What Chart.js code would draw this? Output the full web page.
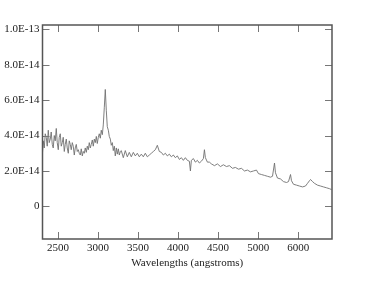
<!DOCTYPE html>
<html>
<head>
<meta charset="utf-8">
<script src="https://cdn.jsdelivr.net/npm/chart.js@4/dist/chart.umd.min.js"></script>
<style>
html,body{margin:0;padding:0;background:#fff;}
#wrap{width:374px;height:282px;position:relative;}
</style>
</head>
<body>
<div id="wrap"><canvas id="c" width="374" height="282"></canvas></div>
<script>
// Wavelength (angstroms)
const wavelengths = [
2304,2316,2329,2341,2354,2366,2379,2391,2404,2416,2429,2441,2454,2466,2479,2491,2504,2516,2529,2541,
2554,2566,2579,2591,2604,2616,2629,2641,2654,2666,2679,2691,2704,2716,2729,2741,2754,2766,2779,2791,
2804,2816,2829,2841,2854,2866,2879,2891,2904,2916,2929,2941,2954,2966,2979,2991,3004,3016,3029,3041,
3054,3066,3079,3091,3104,3116,3129,3141,3154,3166,3179,3191,3204,3216,3229,3241,3254,3266,3279,
3291,3316,3341,3366,3391,3416,3441,3466,3491,3516,3541,3566,3591,3616,3641,3666,3691,3716,3741,3766,
3791,3816,3841,3866,3891,3916,3941,3966,3991,4016,4041,4066,4091,4116,4141,4154,4166,4191,4216,4241,
4266,4291,4316,4329,4341,4366,4391,4416,4454,4491,4529,4566,4604,4641,4679,4716,4754,4791,4829,4866,
4904,4941,4979,5004,5041,5079,5116,5154,5179,5204,5216,5241,5279,5316,5354,5379,5404,5416,5441,5479,
5516,5554,5591,5616,5641,5654,5679,5704,5741,5779,5816,5854,5891,5916
];
// Flux in units of 1E-14
const fluxE14 = [
2.8,3.7,3.3,4.1,3.9,3.4,4.3,3.6,3.8,4.2,3.5,3.3,4.0,3.7,4.4,3.6,3.2,3.9,4.1,3.4,
3.6,3.9,3.1,3.5,3.8,3.3,3.0,3.7,3.5,3.2,3.6,3.4,2.9,3.3,3.5,3.1,3.2,3.0,2.9,3.25,
2.85,3.1,3.0,3.3,3.05,3.4,3.2,3.6,3.3,3.5,3.75,3.4,3.8,3.6,3.95,3.55,3.9,4.1,3.85,4.3,
4.05,4.6,5.6,6.6,5.4,4.5,4.3,3.95,3.8,3.45,3.6,3.15,3.4,2.85,3.3,2.95,3.25,2.9,3.1,
3.15,2.75,3.15,2.8,3.05,2.8,3.05,2.85,3.0,2.8,2.95,2.8,3.0,2.8,2.9,3.0,3.1,3.2,3.45,3.1,
3.05,2.9,3.0,2.85,2.95,2.8,2.9,2.75,2.85,2.65,2.75,2.6,2.75,2.6,2.55,2.0,2.6,2.7,2.5,2.6,
2.45,2.55,2.7,3.2,2.75,2.5,2.5,2.4,2.3,2.4,2.25,2.35,2.25,2.3,2.15,2.2,2.1,2.15,2.0,2.05,
1.95,2.0,2.05,1.85,1.8,1.75,1.7,1.65,1.7,2.45,1.9,1.6,1.55,1.4,1.35,1.4,1.8,1.45,1.25,1.2,
1.15,1.1,1.15,1.3,1.45,1.52,1.4,1.3,1.2,1.15,1.1,1.05,1.0,0.95
];
const xTickValues = [2500,3000,3500,4000,4500,5000,5500];
const xTickLabels = ['2500','3000','3500','4000','4500','5000','6000'];
const yTickValues = [0,2,4,6,8,10];
const yTickLabels = ['0','2.0E-14','4.0E-14','6.0E-14','8.0E-14','1.0E-13'];
const xTitle = 'Wavelengths (angstroms)';

const points = wavelengths.map((w,i)=>({x:w,y:fluxE14[i]}));

const framePlugin = {
  id:'frame',
  afterDraw(chart){
    const {ctx, chartArea:a, scales} = chart;
    ctx.save();
    ctx.strokeStyle='#777';
    ctx.lineWidth=1;
    const L=7;
    xTickValues.forEach(v=>{
      const px=Math.round(scales.x.getPixelForValue(v))+0.5;
      ctx.beginPath();
      ctx.moveTo(px,a.bottom); ctx.lineTo(px,a.bottom-L);
      ctx.moveTo(px,a.top); ctx.lineTo(px,a.top+L);
      ctx.stroke();
    });
    yTickValues.forEach(v=>{
      const py=Math.round(scales.y.getPixelForValue(v))+0.5;
      ctx.beginPath();
      ctx.moveTo(a.left,py); ctx.lineTo(a.left+L,py);
      ctx.moveTo(a.right,py); ctx.lineTo(a.right-L,py);
      ctx.stroke();
    });
    ctx.strokeStyle='#555';
    ctx.lineWidth=1.5;
    ctx.strokeRect(a.left,a.top,a.right-a.left,a.bottom-a.top);
    ctx.restore();
  }
};

new Chart(document.getElementById('c'),{
  type:'line',
  data:{datasets:[{data:points,borderColor:'#707070',borderWidth:0.9,pointRadius:0,tension:0,fill:false}]},
  options:{
    responsive:false,animation:false,
    layout:{padding:{top:25,right:42,left:0,bottom:12}},
    plugins:{legend:{display:false},tooltip:{enabled:false}},
    scales:{
      x:{type:'linear',min:2307,max:5922,
        afterBuildTicks(s){s.ticks=xTickValues.map(v=>({value:v}));},
        afterFit(s){s.height=31;},
        grid:{display:false,drawTicks:false,tickLength:0},border:{display:false},
        ticks:{padding:3,color:'#222',maxRotation:0,autoSkip:false,font:{family:'Liberation Serif',size:11},
          callback:(v,i)=>xTickLabels[i]},
        title:{display:true,text:xTitle,color:'#222',padding:{top:2,bottom:0},font:{family:'Liberation Serif',size:11}}
      },
      y:{type:'linear',min:-1.84,max:10.24,
        afterBuildTicks(s){s.ticks=yTickValues.map(v=>({value:v}));},
        afterFit(s){s.width=42.5;},
        grid:{display:false,drawTicks:false,tickLength:0},border:{display:false},
        ticks:{padding:3,color:'#222',autoSkip:false,font:{family:'Liberation Serif',size:11},
          callback:(v,i)=>yTickLabels[i]}
      }
    }
  },
  plugins:[framePlugin]
});
</script>
</body>
</html>
